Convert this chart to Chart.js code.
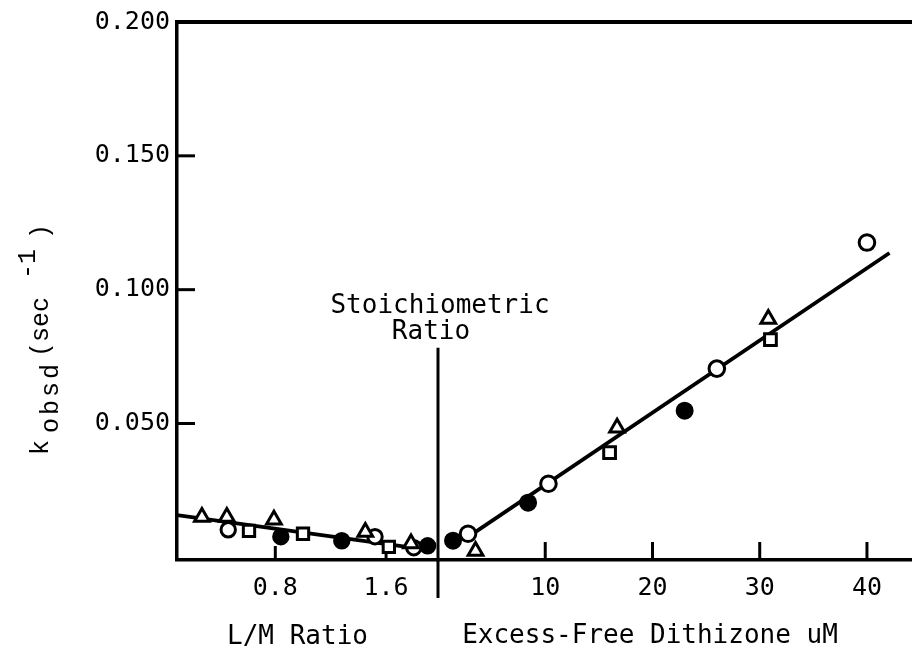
<!DOCTYPE html>
<html>
<head>
<meta charset="utf-8">
<script src="https://cdn.jsdelivr.net/npm/chart.js@4/dist/chart.umd.min.js"></script>
<style>
  html, body { margin: 0; padding: 0; background: #fff; }
  #wrap { width: 912px; height: 652px; }
</style>
</head>
<body>
<div id="wrap"><canvas id="c" width="912" height="652"></canvas></div>
<script>
// ---- axis ticks ----
const yTicks = [0.05, 0.10, 0.15, 0.20];
const yTickLabels = ['0.050', '0.100', '0.150', '0.200'];
const lmTicks = [0.8, 1.6];
const lmTickLabels = ['0.8', '1.6'];
const exTicks = [10, 20, 30, 40];
const exTickLabels = ['10', '20', '30', '40'];

// ---- below the stoichiometric ratio: x = L/M ratio, k in sec^-1 ----
const lmTriangleX = [0.27, 0.45, 0.79, 1.45, 1.78];
const lmTriangleK = [0.0151, 0.0151, 0.0140, 0.0095, 0.0052];
const lmCircleX   = [0.46, 1.52, 1.80];
const lmCircleK   = [0.0103, 0.0077, 0.0036];
const lmSquareX   = [0.61, 1.00, 1.62];
const lmSquareK   = [0.0099, 0.0088, 0.0039];
const lmDotX      = [0.84, 1.28, 1.90];
const lmDotK      = [0.0077, 0.0062, 0.0043];
const lmFitX      = [0.09, 1.88];
const lmFitK      = [0.0158, 0.0030];

// ---- above it: x = excess free dithizone (uM) ----
const exDotX      = [1.4, 8.4, 23.0];
const exDotK      = [0.0062, 0.0204, 0.0548];
const exCircleX   = [2.8, 10.3, 26.0, 40.0];
const exCircleK   = [0.0088, 0.0275, 0.0705, 0.1176];
const exTriangleX = [3.5, 16.7, 30.8];
const exTriangleK = [0.0024, 0.0484, 0.0890];
const exSquareX   = [16.0, 31.0];
const exSquareK   = [0.0391, 0.0813];
const exFitX      = [2.5, 42.1];
const exFitK      = [0.0068, 0.1137];

// stoichiometric marker: sits at zero excess dithizone, rises to this k
const stoichTopK = 0.0783;

const INK = '#000';
const MONO = '"DejaVu Sans Mono", monospace';
const pts = (xs, ks) => xs.map((x, i) => ({ x, y: ks[i] }));

function markers(label, axis, xs, ks, style, fill, radius) {
  return {
    label, xAxisID: axis, yAxisID: 'y',
    data: pts(xs, ks),
    showLine: false,
    pointStyle: style,
    pointRadius: radius,
    pointBackgroundColor: fill,
    pointBorderColor: INK,
    pointBorderWidth: 3,
    order: 0
  };
}
function fitLine(label, axis, xs, ks) {
  return {
    type: 'line', label, xAxisID: axis, yAxisID: 'y',
    data: pts(xs, ks),
    showLine: true, borderColor: INK, borderWidth: 3.8,
    pointRadius: 0, fill: false, order: 10
  };
}

// horizontal scales share the width side by side; keep them flush with the plot
const flushX = s => { s.height = 92; s.paddingLeft = 0; s.paddingRight = 0; };

const decorations = {
  id: 'decorations',
  afterDraw(chart) {
    const { ctx, chartArea: a, scales: { x1, x2, y } } = chart;
    ctx.save();
    ctx.strokeStyle = INK;
    ctx.fillStyle = INK;
    ctx.lineCap = 'butt';

    // top frame
    ctx.lineWidth = 4;
    ctx.beginPath();
    ctx.moveTo(a.left - 1.5, a.top);
    ctx.lineTo(a.right, a.top);
    ctx.stroke();

    // inward tick marks
    ctx.lineWidth = 3;
    yTicks.slice(0, 3).forEach(v => {
      const py = y.getPixelForValue(v);
      ctx.beginPath(); ctx.moveTo(a.left, py); ctx.lineTo(a.left + 18, py); ctx.stroke();
    });
    [14, 6].forEach((len, i) => {
      const px = x1.getPixelForValue(lmTicks[i]);
      ctx.beginPath(); ctx.moveTo(px, a.bottom); ctx.lineTo(px, a.bottom - len); ctx.stroke();
    });
    exTicks.forEach(v => {
      const px = x2.getPixelForValue(v);
      ctx.beginPath(); ctx.moveTo(px, a.bottom); ctx.lineTo(px, a.bottom - 18); ctx.stroke();
    });

    // stoichiometric ratio divider
    const sx = x2.getPixelForValue(0);
    ctx.lineWidth = 3;
    ctx.beginPath();
    ctx.moveTo(sx, y.getPixelForValue(stoichTopK));
    ctx.lineTo(sx, a.bottom + 38);
    ctx.stroke();

    ctx.font = '26px ' + MONO;
    ctx.textAlign = 'center';
    ctx.textBaseline = 'middle';
    ctx.fillText('Stoichiometric', sx + 2, 306);
    ctx.fillText('Ratio', sx - 7, 332);

    // axis titles
    ctx.fillText('L/M Ratio', (x1.left + x1.right) / 2 - 10, 637);
    ctx.fillText('Excess-Free Dithizone uM', (x2.left + x2.right) / 2 - 25, 636);

    // y title: k_obsd (sec^-1)
    ctx.translate(48, 455);
    ctx.rotate(-Math.PI / 2);
    ctx.textAlign = 'left';
    ctx.textBaseline = 'alphabetic';
    ctx.font = '25px "Liberation Mono", monospace';
    ctx.fillText('k', 0, 0);
    ctx.letterSpacing = '3px';
    ctx.fillText('obsd', 22, 10);
    ctx.letterSpacing = '0px';
    ctx.fillText('(sec', 98, 0);
    ctx.fillText('-1', 176, -13);
    ctx.fillText(')', 216, 0);
    ctx.restore();
  }
};

const tickFont = { family: MONO, size: 25 };

new Chart(document.getElementById('c'), {
  type: 'scatter',
  data: {
    datasets: [
      fitLine('L/M fit', 'x1', lmFitX, lmFitK),
      fitLine('excess fit', 'x2', exFitX, exFitK),
      markers('L/M triangles', 'x1', lmTriangleX, lmTriangleK, 'triangle', '#fff', 8.5),
      markers('L/M circles', 'x1', lmCircleX, lmCircleK, 'circle', '#fff', 7.2),
      markers('L/M squares', 'x1', lmSquareX, lmSquareK, 'rect', '#fff', 8),
      markers('L/M dots', 'x1', lmDotX, lmDotK, 'circle', INK, 7.2),
      markers('excess dots', 'x2', exDotX, exDotK, 'circle', INK, 7.5),
      markers('excess circles', 'x2', exCircleX, exCircleK, 'circle', '#fff', 7.8),
      markers('excess triangles', 'x2', exTriangleX, exTriangleK, 'triangle', '#fff', 8.5),
      markers('excess squares', 'x2', exSquareX, exSquareK, 'rect', '#fff', 8.3)
    ]
  },
  options: {
    responsive: false,
    animation: false,
    devicePixelRatio: 1,
    layout: { autoPadding: false, padding: { top: 22, right: 0, bottom: 0, left: 0 } },
    plugins: { legend: { display: false }, tooltip: { enabled: false } },
    scales: {
      x1: {
        type: 'linear', position: 'bottom', stack: 'xs', stackWeight: 261,
        min: 0.09, max: 1.975,
        afterBuildTicks: s => { s.ticks = lmTicks.map(v => ({ value: v })); },
        afterFit: flushX,
        ticks: { font: tickFont, color: INK, padding: 13, maxRotation: 0,
                 callback: (v, i) => lmTickLabels[i] },
        grid: { display: true, drawOnChartArea: false, drawTicks: false },
        border: { display: true, color: INK, width: 3.5 }
      },
      x2: {
        type: 'linear', position: 'bottom', stack: 'xs', stackWeight: 474,
        min: 0, max: 44.2,
        afterBuildTicks: s => { s.ticks = exTicks.map(v => ({ value: v })); },
        afterFit: flushX,
        ticks: { font: tickFont, color: INK, padding: 13, maxRotation: 0,
                 callback: (v, i) => exTickLabels[i] },
        grid: { display: true, drawOnChartArea: false, drawTicks: false },
        border: { display: true, color: INK, width: 3.5 }
      },
      y: {
        type: 'linear', position: 'left',
        min: -0.001, max: 0.2,
        afterBuildTicks: s => { s.ticks = yTicks.map(v => ({ value: v })); },
        afterFit: s => { s.width = 177; s.paddingTop = 0; s.paddingBottom = 0; },
        ticks: { font: tickFont, color: INK, padding: 7,
                 callback: (v, i) => yTickLabels[i] },
        grid: { display: true, drawOnChartArea: false, drawTicks: false },
        border: { display: true, color: INK, width: 3.5 }
      }
    }
  },
  plugins: [decorations]
});
</script>
</body>
</html>
